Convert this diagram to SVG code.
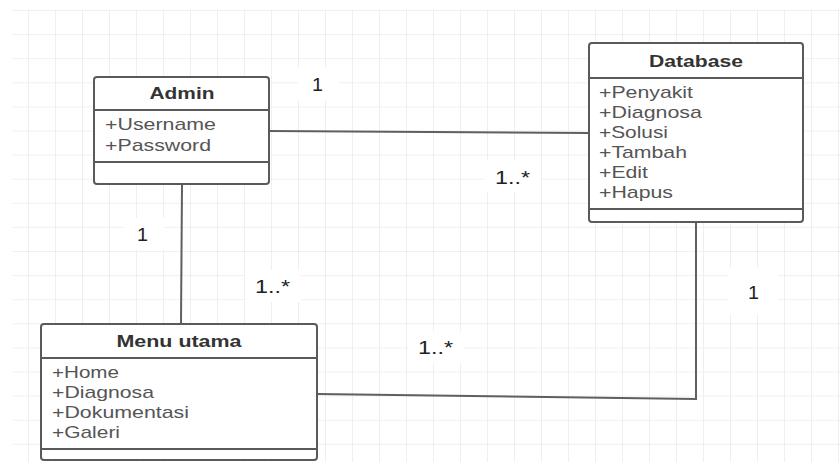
<svg xmlns="http://www.w3.org/2000/svg" width="840" height="462" viewBox="0 0 840 462">
<defs>
  <pattern id="grid" x="1" y="10" width="27" height="24.1" patternUnits="userSpaceOnUse">
    <path d="M0 0 V24.1 M0 0 H27" fill="none" stroke="#ebebeb" stroke-width="1.6"/>
  </pattern>
</defs>
<style>
  .box { fill: #ffffff; stroke: #5a5a5a; stroke-width: 2; }
  .div { stroke: #5a5a5a; stroke-width: 2; }
  .conn { fill: none; stroke: #5f5f5f; stroke-width: 2; }
  .hdr { font-family: "Liberation Sans", Arial, sans-serif; font-weight: bold; font-size: 16.5px; fill: #333333; text-anchor: middle; }
  .attr { font-family: "Liberation Sans", Arial, sans-serif; font-size: 17px; fill: #555555; }
  .lbl { font-family: "Liberation Sans", Arial, sans-serif; font-size: 17.5px; fill: #222222; }
  .lblbg { fill: #ffffff; }
</style>
<rect x="0" y="0" width="840" height="462" fill="#ffffff"/>
<rect x="12" y="10" width="828" height="452" fill="url(#grid)"/>

<g id="connectors">
  <path class="conn" d="M269 131 L589 133"/>
  <path class="conn" d="M182 184 L181 324"/>
  <path class="conn" d="M696 222 L696 399 L317 394"/>
</g>

<g id="labels">
  <rect class="lblbg" x="298" y="68" width="40" height="32"/>
  <text class="lbl" x="312" y="91" textLength="11" lengthAdjust="spacingAndGlyphs">1</text>
  <rect class="lblbg" x="485" y="160" width="56" height="32"/>
  <text class="lbl" x="495" y="184" textLength="35" lengthAdjust="spacingAndGlyphs">1..*</text>
  <rect class="lblbg" x="124" y="218" width="40" height="32"/>
  <text class="lbl" x="137" y="241" textLength="11" lengthAdjust="spacingAndGlyphs">1</text>
  <rect class="lblbg" x="245" y="270" width="56" height="32"/>
  <text class="lbl" x="255" y="293" textLength="35" lengthAdjust="spacingAndGlyphs">1..*</text>
  <rect class="lblbg" x="408" y="331" width="56" height="32"/>
  <text class="lbl" x="418" y="354" textLength="35" lengthAdjust="spacingAndGlyphs">1..*</text>
  <rect class="lblbg" x="728" y="268" width="50" height="46"/>
  <text class="lbl" x="748" y="299" textLength="11" lengthAdjust="spacingAndGlyphs">1</text>
</g>

<g id="admin">
  <rect class="box" x="94" y="77" width="175" height="107" rx="3"/>
  <line class="div" x1="94" y1="110" x2="269" y2="110"/>
  <line class="div" x1="94" y1="162" x2="269" y2="162"/>
  <text class="hdr" x="182" y="99" textLength="65" lengthAdjust="spacingAndGlyphs">Admin</text>
  <text class="attr" x="105" y="130" textLength="111" lengthAdjust="spacingAndGlyphs">+Username</text>
  <text class="attr" x="105" y="151" textLength="106" lengthAdjust="spacingAndGlyphs">+Password</text>
</g>

<g id="database">
  <rect class="box" x="589" y="43" width="214" height="179" rx="3"/>
  <line class="div" x1="589" y1="78" x2="803" y2="78"/>
  <line class="div" x1="589" y1="209" x2="803" y2="209"/>
  <text class="hdr" x="696" y="67" textLength="94" lengthAdjust="spacingAndGlyphs">Database</text>
  <text class="attr" x="599" y="98" textLength="94" lengthAdjust="spacingAndGlyphs">+Penyakit</text>
  <text class="attr" x="599" y="118" textLength="103" lengthAdjust="spacingAndGlyphs">+Diagnosa</text>
  <text class="attr" x="599" y="138" textLength="69" lengthAdjust="spacingAndGlyphs">+Solusi</text>
  <text class="attr" x="599" y="158" textLength="88" lengthAdjust="spacingAndGlyphs">+Tambah</text>
  <text class="attr" x="599" y="178" textLength="49" lengthAdjust="spacingAndGlyphs">+Edit</text>
  <text class="attr" x="599" y="198" textLength="74" lengthAdjust="spacingAndGlyphs">+Hapus</text>
</g>

<g id="menu-utama">
  <rect class="box" x="41" y="324" width="276" height="136" rx="3"/>
  <line class="div" x1="41" y1="358" x2="317" y2="358"/>
  <line class="div" x1="41" y1="449" x2="317" y2="449"/>
  <text class="hdr" x="179" y="347" textLength="125" lengthAdjust="spacingAndGlyphs">Menu utama</text>
  <text class="attr" x="52" y="378" textLength="67" lengthAdjust="spacingAndGlyphs">+Home</text>
  <text class="attr" x="52" y="398" textLength="102" lengthAdjust="spacingAndGlyphs">+Diagnosa</text>
  <text class="attr" x="52" y="418" textLength="137" lengthAdjust="spacingAndGlyphs">+Dokumentasi</text>
  <text class="attr" x="52" y="438" textLength="68" lengthAdjust="spacingAndGlyphs">+Galeri</text>
</g>
</svg>
